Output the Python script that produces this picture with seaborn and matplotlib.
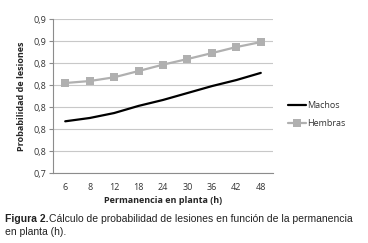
import pandas as pd
import seaborn as sns
import matplotlib.pyplot as plt

# datos
horas = ['6', '8', '12', '18', '24', '30', '36', '42', '48']
machos = [0.787, 0.790, 0.7945, 0.801, 0.8064, 0.8127, 0.819, 0.8245, 0.831]
hembras = [0.8218, 0.8236, 0.827, 0.8327, 0.8385, 0.8436, 0.849, 0.8545, 0.859]
y_ticks = [0.74, 0.76, 0.78, 0.80, 0.82, 0.84, 0.86, 0.88]
y_labels = ['0,7', '0,8', '0,8', '0,8', '0,8', '0,8', '0,9', '0,9']

df_m = pd.DataFrame({'horas': horas, 'prob': machos})
df_h = pd.DataFrame({'horas': horas, 'prob': hembras})

sns.set_style('white')
plt.rcParams['font.family'] = ['Open Sans', 'DejaVu Sans']

fig = plt.figure(figsize=(3.68, 2.43), dpi=100)
ax = fig.add_axes([53 / 368, 1 - 173 / 243, 220 / 368, 154 / 243])

sns.lineplot(data=df_m, x='horas', y='prob', color='#000000', sort=False,
             linewidth=1.6, label='Machos', ax=ax)
sns.lineplot(data=df_h, x='horas', y='prob', color='#b0b0b0', sort=False,
             linewidth=1.6, marker='s', markersize=5.5, markeredgewidth=0,
             label='Hembras', ax=ax)

ax.set_xlim(-0.5, len(horas) - 0.5)
ax.set_ylim(y_ticks[0], y_ticks[-1])
ax.set_yticks(y_ticks)
ax.set_yticklabels(y_labels)
ax.yaxis.grid(True, color='#c8c8c8', linewidth=0.8)
ax.set_axisbelow(True)
for s in ['top', 'right']:
    ax.spines[s].set_visible(False)
ax.spines['left'].set_color('#8c8c8c')
ax.spines['bottom'].set_color('#8c8c8c')
ax.tick_params(axis='both', labelsize=6.5, colors='#8c8c8c', labelcolor='#333333',
               length=3, width=0.8)
ax.tick_params(axis='y', left=True, pad=2)
ax.tick_params(axis='x', bottom=False, pad=4)

ax.set_xlabel('Permanencia en planta (h)', fontsize=6.5, fontweight='bold', labelpad=3)
ax.set_ylabel('Probabilidad de lesiones', fontsize=6.5, fontweight='bold', labelpad=5)

leg = ax.legend(loc='center left', bbox_to_anchor=(1.03, 0.38), frameon=False,
                fontsize=6.5, handlelength=2.0, handletextpad=0.1, labelspacing=1.0)
for t in leg.get_texts():
    t.set_color('#333333')

fig.text(5 / 368, 1 - 222 / 243, 'Figura 2.', fontsize=7.5, fontweight='bold',
         family='Liberation Sans', color='#222222')
fig.text(49 / 368, 1 - 222 / 243,
         'Cálculo de probabilidad de lesiones en función de la permanencia',
         fontsize=7.5, family='Liberation Sans', color='#222222')
fig.text(5 / 368, 1 - 235 / 243, 'en planta (h).', fontsize=7.5,
         family='Liberation Sans', color='#222222')

fig.savefig('out.png', dpi=100)
